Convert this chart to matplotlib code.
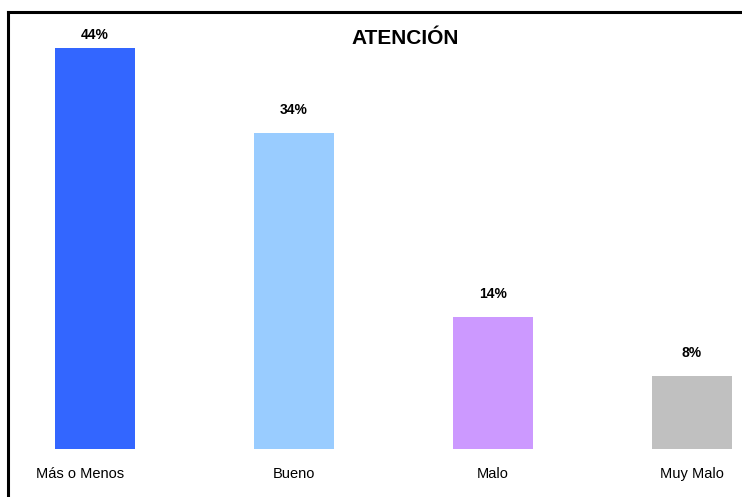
import numpy as np
import matplotlib
matplotlib.use("Agg")
import matplotlib.pyplot as plt
from matplotlib.lines import Line2D
from matplotlib.transforms import blended_transform_factory, ScaledTranslation

# data
categories = ["Más o Menos", "Bueno", "Malo", "Muy Malo"]
values = [43.6, 34.4, 14.4, 7.9]
colors = ["#3366FF", "#99CCFF", "#CC99FF", "#C0C0C0"]
title = "ATENCIÓN"

W, H = 742, 497
plt.rcParams["font.family"] = ["Liberation Sans", "DejaVu Sans"]
fig = plt.figure(figsize=(W / 100, H / 100), dpi=100)
fig.patch.set_facecolor("white")

# axes: baseline at y=449px, bar centers at 95px with 199px spacing
ax = fig.add_axes([0, (H - 449) / H, 1, 449 / H])
x = np.arange(len(categories))
ax.bar(x, values, width=0.4, color=colors)
ax.set_xlim(-95 / 199, (W - 95) / 199)
ax.set_ylim(0, 449 / 9.2)
for s in ax.spines.values():
    s.set_visible(False)
ax.set_xticks([])
ax.set_yticks([])

# category labels on a common baseline under the bars
tr = blended_transform_factory(ax.transData, fig.transFigure)
for i, (xi, cat) in enumerate(zip(x, categories)):
    t = tr
    if i == 0:
        t = tr + ScaledTranslation(-15 / 100, 0, fig.dpi_scale_trans)
    ax.text(xi, 1 - 478 / H, cat, ha="center", va="baseline",
            fontsize=10.5, transform=t)

for xi, v in zip(x, values):
    yl = min(v + 23 / 9.2, (449 - 35) / 9.2)
    ax.text(xi, yl, f"{round(v)}%", ha="center", va="center",
            fontsize=10, fontweight="bold")

fig.text(405 / W, 1 - 38 / H, title, ha="center", va="center",
         fontsize=15, fontweight="bold")

# frame lines (left and top only visible)
fig.add_artist(Line2D([8 / W, 8 / W], [0, 1 - 12 / H], color="black", lw=2.2,
                      transform=fig.transFigure))
fig.add_artist(Line2D([8 / W, 1], [1 - 12 / H, 1 - 12 / H], color="black", lw=2.2,
                      transform=fig.transFigure))

fig.savefig("out.png", dpi=100)
